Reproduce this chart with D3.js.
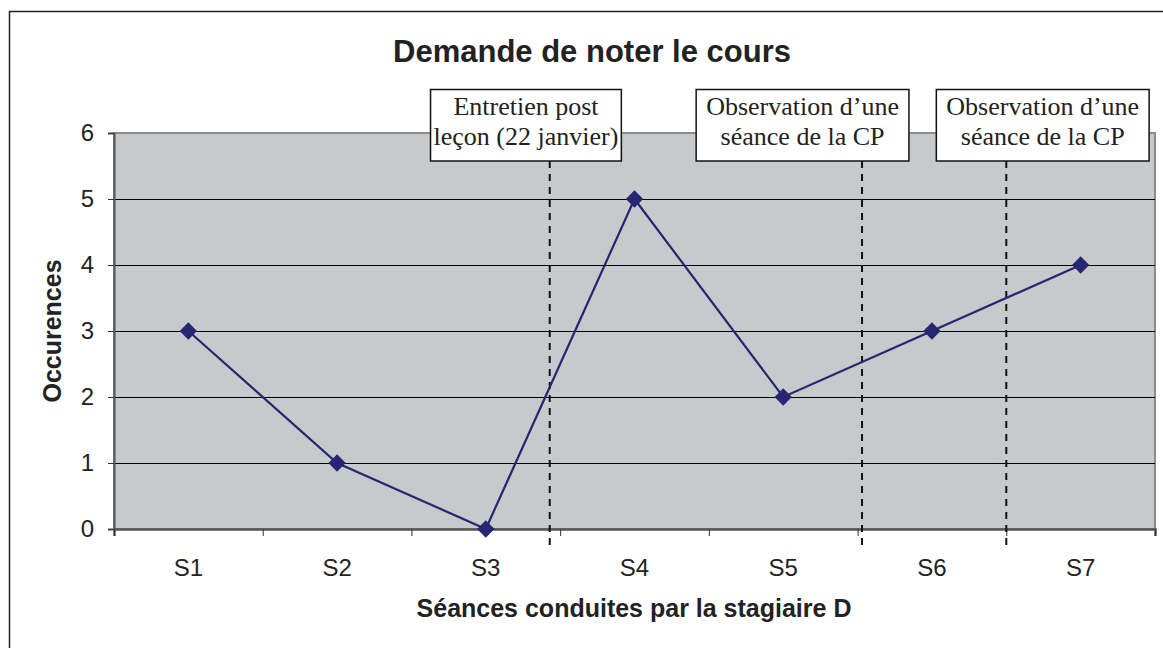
<!DOCTYPE html>
<html>
<head>
<meta charset="utf-8">
<script src="https://cdn.jsdelivr.net/npm/d3@7"></script>
<style>
  html, body { margin: 0; padding: 0; background: #fff; }
  svg { display: block; }
</style>
</head>
<body>
<svg id="chart" width="1163" height="648"></svg>
<script>
// Sessions and number of occurrences
const categories = ["S1", "S2", "S3", "S4", "S5", "S6", "S7"];
const occurrences = [3, 1, 0, 5, 2, 3, 4];
const yTicks = [0, 1, 2, 3, 4, 5, 6];

// Event markers: position along the category axis (0 = left edge, 7 = right edge)
const eventPositions = [2.93, 5.03, 6.0];
const eventLabels = [
  ["Entretien post", "leçon (22 janvier)"],
  ["Observation d\u2019une", "séance de la CP"],
  ["Observation d\u2019une", "séance de la CP"]
];
const eventBoxCenters = [2.77, 4.63, 6.245];

const title = "Demande de noter le cours";
const xTitle = "Séances conduites par la stagiaire D";
const yTitle = "Occurences";

const svg = d3.select("#chart");
const W = 1163, H = 648;
const plot = { left: 114, top: 133, right: 1155, bottom: 529 };
const sans = "Liberation Sans, Arial, sans-serif";
const serif = "Liberation Serif, Times New Roman, serif";
const boxPadding = [3, 10, 10];

// Outer chart border
svg.append("rect")
  .attr("x", 9.5).attr("y", 11.5)
  .attr("width", W + 10).attr("height", H + 10)
  .attr("fill", "#fff").attr("stroke", "#222").attr("stroke-width", 1.5);

const x = d3.scaleBand().domain(categories).range([plot.left, plot.right]).padding(0);
const xPos = d3.scaleLinear().domain([0, categories.length]).range([plot.left, plot.right]);
const y = d3.scaleLinear().domain([0, 6]).range([plot.bottom, plot.top]);

// Plot area
svg.append("rect")
  .attr("x", plot.left).attr("y", plot.top)
  .attr("width", plot.right - plot.left).attr("height", plot.bottom - plot.top)
  .attr("fill", "#c8c9cb").attr("stroke", "#8c8c8c").attr("stroke-width", 2);

// Horizontal gridlines
svg.append("g").selectAll("line")
  .data(yTicks.filter(d => d > 0 && d < 6))
  .join("line")
  .attr("x1", plot.left).attr("x2", plot.right)
  .attr("y1", d => Math.round(y(d)) + 0.5).attr("y2", d => Math.round(y(d)) + 0.5)
  .attr("stroke", "#000").attr("stroke-width", 1);

// Y axis
const yAxis = svg.append("g")
  .attr("transform", `translate(${plot.left},0)`)
  .call(d3.axisLeft(y).tickValues(yTicks).tickSize(6).tickPadding(14).tickFormat(d3.format("d")));
yAxis.select(".domain").attr("stroke", "#555").attr("stroke-width", 2);
yAxis.selectAll(".tick line").attr("stroke", "#333");
yAxis.selectAll("text")
  .attr("font-family", sans)
  .attr("font-size", 24).attr("fill", "#222");

// X axis: ticks on category boundaries, labels centred in each band
const xAxis = svg.append("g")
  .attr("transform", `translate(0,${plot.bottom})`)
  .call(d3.axisBottom(xPos).tickValues(d3.range(0, categories.length + 1)).tickSize(7).tickFormat(""));
xAxis.select(".domain").attr("stroke", "#555").attr("stroke-width", 2.5);
xAxis.selectAll(".tick line").attr("stroke", "#333");

svg.append("g").selectAll("text")
  .data(categories)
  .join("text")
  .attr("x", d => x(d) + x.bandwidth() / 2)
  .attr("y", plot.bottom + 47)
  .attr("text-anchor", "middle")
  .attr("font-family", sans)
  .attr("font-size", 24).attr("fill", "#222")
  .text(d => d);

// Event dashed lines
svg.append("g").selectAll("line")
  .data(eventPositions)
  .join("line")
  .attr("x1", d => xPos(d)).attr("x2", d => xPos(d))
  .attr("y1", 161).attr("y2", plot.bottom + 18)
  .attr("stroke", "#111").attr("stroke-width", 2)
  .attr("stroke-dasharray", "7,6");

// Data line
const line = d3.line()
  .x((d, i) => x(categories[i]) + x.bandwidth() / 2)
  .y(d => y(d));
svg.append("path")
  .datum(occurrences)
  .attr("d", line)
  .attr("fill", "none")
  .attr("stroke", "#262673").attr("stroke-width", 2.2);

// Diamond markers
svg.append("g").selectAll("path")
  .data(occurrences)
  .join("path")
  .attr("transform", (d, i) => `translate(${x(categories[i]) + x.bandwidth() / 2},${y(d)})`)
  .attr("d", d3.symbol(d3.symbolDiamond2, 190))
  .attr("fill", "#262673");

// Event label boxes
const boxes = svg.append("g").selectAll("g")
  .data(eventLabels)
  .join("g")
  .attr("transform", (d, i) => `translate(${xPos(eventBoxCenters[i])},0)`);
boxes.each(function (lines, i) {
  const g = d3.select(this);
  const t = g.append("text")
    .attr("text-anchor", "middle")
    .attr("font-family", serif)
    .attr("font-size", 26).attr("fill", "#222");
  lines.forEach((s, k) => t.append("tspan").attr("x", 0).attr("y", 115 + k * 30).text(s));
  const bb = t.node().getBBox();
  const pad = boxPadding[i];
  g.insert("rect", "text")
    .attr("x", bb.x - pad).attr("y", 89.5)
    .attr("width", bb.width + 2 * pad).attr("height", 71.5)
    .attr("fill", "#fff").attr("stroke", "#111").attr("stroke-width", 1.5);
});

// Titles
svg.append("text")
  .attr("x", 592).attr("y", 62)
  .attr("text-anchor", "middle")
  .attr("font-family", sans)
  .attr("font-weight", "bold").attr("font-size", 31).attr("fill", "#222")
  .text(title);

svg.append("text")
  .attr("x", 634).attr("y", 617)
  .attr("text-anchor", "middle")
  .attr("font-family", sans)
  .attr("font-weight", "bold").attr("font-size", 25).attr("fill", "#222")
  .text(xTitle);

svg.append("text")
  .attr("transform", "translate(61,331) rotate(-90)")
  .attr("text-anchor", "middle")
  .attr("font-family", sans)
  .attr("font-weight", "bold").attr("font-size", 25).attr("fill", "#222")
  .text(yTitle);
</script>
</body>
</html>
